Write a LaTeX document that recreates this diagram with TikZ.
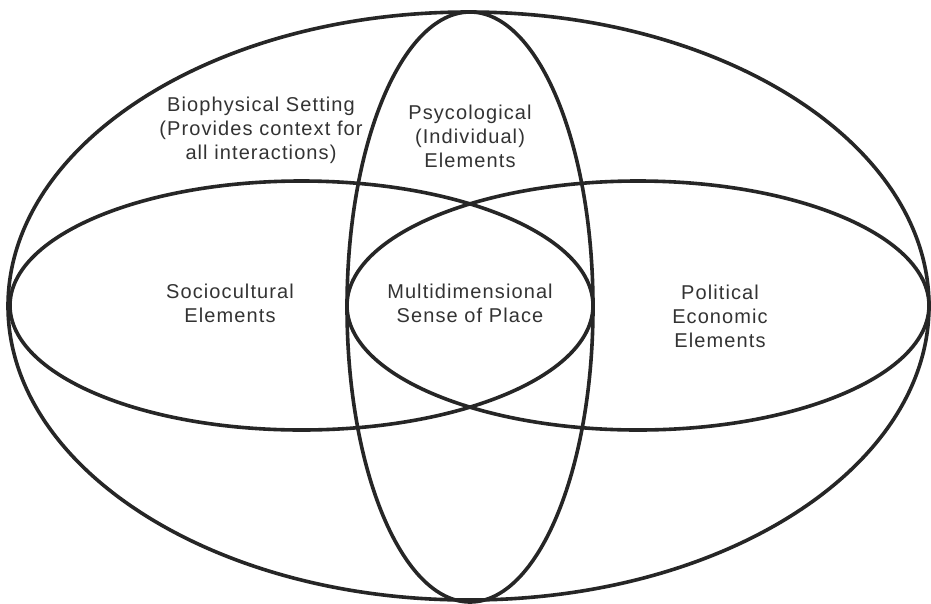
\documentclass[tikz,border=0pt]{standalone}
\usepackage{fontspec}
\setmainfont{Liberation Sans}[LetterSpace=5.5]
\begin{document}
\begin{tikzpicture}[x=1pt,y=-1pt,
  ring/.style={draw=black!85,line width=3.6pt},
  lbl/.style={align=center,text=black!80,font=\fontsize{20}{24}\selectfont,inner sep=0pt}]
\useasboundingbox (0,0) rectangle (931,603);
\fill[white] (0,0) rectangle (931,603);
\draw[ring] (468.5,306) ellipse [x radius=460.5, y radius=294];
\draw[ring] (470,307) ellipse [x radius=123, y radius=295];
\draw[ring] (301.5,305.5) ellipse [x radius=291.5, y radius=124.5];
\draw[ring] (638,305.5) ellipse [x radius=291, y radius=124.5];
\node[lbl] (bio) at (261,130) {Biophysical Setting\\(Provides context for\\all interactions)};
\node[lbl] (psy) at (470,136) {Psycological\\(Individual)\\Elements};
\node[lbl] (soc) at (230,303) {Sociocultural\\Elements};
\node[lbl] (mul) at (470,303) {Multidimensional\\Sense of Place};
\node[lbl] (pol) at (720,316) {Political\\Economic\\Elements};
\end{tikzpicture}
\end{document}
